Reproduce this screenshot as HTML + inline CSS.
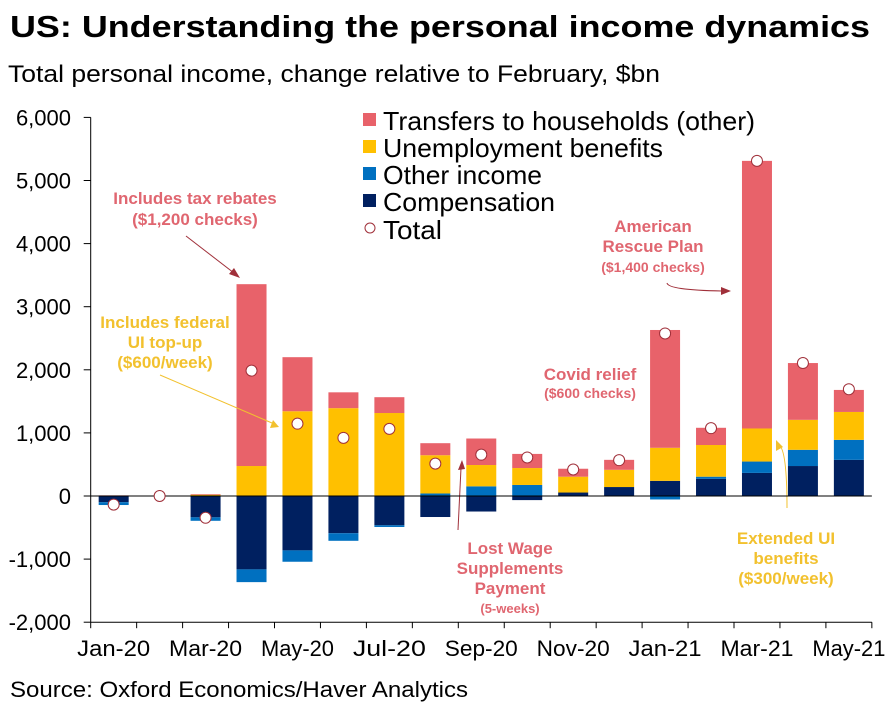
<!DOCTYPE html>
<html><head><meta charset="utf-8"><style>
html,body{margin:0;padding:0;background:#fff;}
svg{display:block;font-family:"Liberation Sans",Arial,sans-serif;}
</style></head><body>
<svg id="c" width="885" height="708" viewBox="0 0 885 708" xmlns="http://www.w3.org/2000/svg">
<text x="10" y="37" font-size="31" font-weight="bold" textLength="860" lengthAdjust="spacingAndGlyphs">US: Understanding the personal income dynamics</text>
<text x="8" y="82" font-size="24" textLength="652" lengthAdjust="spacingAndGlyphs">Total personal income, change relative to February, $bn</text>
<text x="10" y="697" font-size="22" textLength="458" lengthAdjust="spacingAndGlyphs">Source: Oxford Economics/Haver Analytics</text>
<g id="axes"></g>
<g id="bars"></g>
<g id="totals"></g>
<g id="legend">
 <rect x="363" y="113" width="13" height="13" fill="#E8626A"/>
 <text x="383" y="130" font-size="26" textLength="372" lengthAdjust="spacingAndGlyphs">Transfers to households (other)</text>
 <rect x="363" y="140" width="13" height="13" fill="#FFC000"/>
 <text x="383" y="157" font-size="26" textLength="280" lengthAdjust="spacingAndGlyphs">Unemployment benefits</text>
 <rect x="363" y="167" width="13" height="13" fill="#0070C0"/>
 <text x="383" y="184" font-size="26" textLength="159" lengthAdjust="spacingAndGlyphs">Other income</text>
 <rect x="363" y="194" width="13" height="13" fill="#002060"/>
 <text x="383" y="211" font-size="26" textLength="172" lengthAdjust="spacingAndGlyphs">Compensation</text>
 <circle cx="370" cy="228" r="5" fill="#fff" stroke="#A0303A" stroke-width="1"/>
 <text x="383" y="239" font-size="26" textLength="59" lengthAdjust="spacingAndGlyphs">Total</text>
</g>
<g id="annotations" font-weight="bold" text-anchor="middle">
 <g fill="#E06670">
  <text x="195" y="204" font-size="17">Includes tax rebates</text>
  <text x="195" y="225" font-size="17">($1,200 checks)</text>
 </g>
 <line x1="186" y1="236" x2="234" y2="273" stroke="#A0303A" stroke-width="1"/>
 <polygon points="240,278 229,274 234,268" fill="#A0303A"/>
 <g fill="#F2C12E">
  <text x="165" y="328" font-size="17">Includes federal</text>
  <text x="165" y="348" font-size="17">UI top-up</text>
  <text x="165" y="368" font-size="17">($600/week)</text>
 </g>
 <line x1="160" y1="375" x2="272" y2="423" stroke="#F2C12E" stroke-width="1"/>
 <polygon points="279,427 270,428 273,420" fill="#F2C12E"/>
 <g fill="#E06670">
  <text x="510" y="554" font-size="17">Lost Wage</text>
  <text x="510" y="574" font-size="17">Supplements</text>
  <text x="510" y="594" font-size="17">Payment</text>
  <text x="510" y="613" font-size="13">(5-weeks)</text>
 </g>
 <line x1="458" y1="530" x2="461" y2="468" stroke="#A0303A" stroke-width="1"/>
 <polygon points="462,460 458,470 465,469" fill="#A0303A"/>
 <g fill="#E06670">
  <text x="590" y="380" font-size="17">Covid relief</text>
  <text x="590" y="398" font-size="14">($600 checks)</text>
 </g>
 <g fill="#E06670">
  <text x="653" y="232" font-size="17">American</text>
  <text x="653" y="252" font-size="17">Rescue Plan</text>
  <text x="653" y="272" font-size="14">($1,400 checks)</text>
 </g>
 <path d="M667,283 Q668,290 722,291" fill="none" stroke="#A0303A" stroke-width="1"/>
 <polygon points="731,291 721,287 721,295" fill="#A0303A"/>
 <g fill="#F2C12E">
  <text x="786" y="544" font-size="17">Extended UI</text>
  <text x="786" y="564" font-size="17">benefits</text>
  <text x="786" y="584" font-size="17">($300/week)</text>
 </g>
 <path d="M787,508 Q787,450 779,445" fill="none" stroke="#F2C12E" stroke-width="1"/>
 <polygon points="776,440 776,451 783,447" fill="#F2C12E"/>
</g>
</svg>
<script>
const categories = ["Jan-20","Feb-20","Mar-20","Apr-20","May-20","Jun-20","Jul-20","Aug-20","Sep-20","Oct-20","Nov-20","Dec-20","Jan-21","Feb-21","Mar-21","Apr-21","May-21"];
const compensation = [-98,0,-338,-1163,-862,-590,-464,-333,-246,-65,55,142,240,273,366,475,573];
const otherIncome = [-45,0,-55,-202,-180,-120,-27,40,153,175,0,0,-55,33,180,257,317];
const unemployment = [5,0,20,475,1343,1392,1315,606,338,268,251,273,524,502,524,475,442];
const transfers = [5,0,10,2882,857,251,251,191,420,224,126,158,1867,273,4241,900,349];
const totals = [-136,0,-345,1987,1146,922,1064,513,655,611,420,568,2576,1075,5311,2107,1692];
const yTicks = [6000,5000,4000,3000,2000,1000,0,-1000,-2000];
const yTickLabels = ["6,000","5,000","4,000","3,000","2,000","1,000","0","-1,000","-2,000"];
const xLabelIdx = [0,2,4,6,8,10,12,14,16];

const NS="http://www.w3.org/2000/svg";
const X0=90.7, CW=45.95, BW=30, Y0=496, PPU=63.1/1000;
function xC(i){return X0+CW*(i+0.5);}
function y(v){return Y0 - v*PPU;}
function mk(tag,attrs,parent){const e=document.createElementNS(NS,tag);for(const k in attrs)e.setAttribute(k,attrs[k]);parent.appendChild(e);return e;}
const svg=document.getElementById('c');
const axes=document.getElementById('axes'), bars=document.getElementById('bars'), tot=document.getElementById('totals');

let ya=mk('line',{x1:X0,y1:y(6000),x2:X0,y2:y(-2000),stroke:'#000','stroke-width':1},axes);


yTicks.forEach((v,k)=>{
  let t=mk('line',{x1:X0-7,y1:y(v),x2:X0,y2:y(v),stroke:'#000','stroke-width':1},axes);
  
  
  let l=mk('text',{x:71,y:y(v)+8,'font-size':22,'text-anchor':'end'},axes);
  l.textContent=yTickLabels[k];
  
  
});
let xa=mk('line',{x1:X0,y1:y(-2000),x2:X0+CW*categories.length,y2:y(-2000),stroke:'#000','stroke-width':1},axes);


for(let i=0;i<=categories.length;i++){
  let t=mk('line',{x1:X0+CW*i,y1:y(-2000),x2:X0+CW*i,y2:y(-2000)+6,stroke:'#000','stroke-width':1},axes);
  
  
}
xLabelIdx.forEach(i=>{
  let l=mk('text',{x:xC(i),y:656,'font-size':22,'text-anchor':'middle',textLength:73,lengthAdjust:'spacingAndGlyphs'},axes);
  l.textContent=categories[i];
  
  
});

const series=[[compensation,'#002060','compensation'],[otherIncome,'#0070C0','other-income'],[unemployment,'#FFC000','unemployment'],[transfers,'#E8626A','transfers']];
categories.forEach((c,i)=>{
  let pos=0,neg=0;
  series.forEach(([arr,col,nm])=>{
    const v=arr[i]; if(!v) return;
    let a,b;
    if(v>=0){a=pos;b=pos+v;pos=b;}else{a=neg;b=neg+v;neg=b;}
    const r=mk('rect',{x:xC(i)-BW/2,y:Math.min(y(a),y(b)),width:BW,height:Math.abs(y(a)-y(b)),fill:col},bars);
    
    
  });
});
let zl=mk('line',{x1:X0,y1:y(0),x2:X0+CW*categories.length,y2:y(0),stroke:'#000','stroke-width':1},svg);


svg.appendChild(tot);
totals.forEach((v,i)=>{
  const p=mk('circle',{cx:xC(i),cy:y(v),r:5.5,fill:'#fff',stroke:'#A0303A','stroke-width':1},tot);
  
  
});
</script>
</body></html>
